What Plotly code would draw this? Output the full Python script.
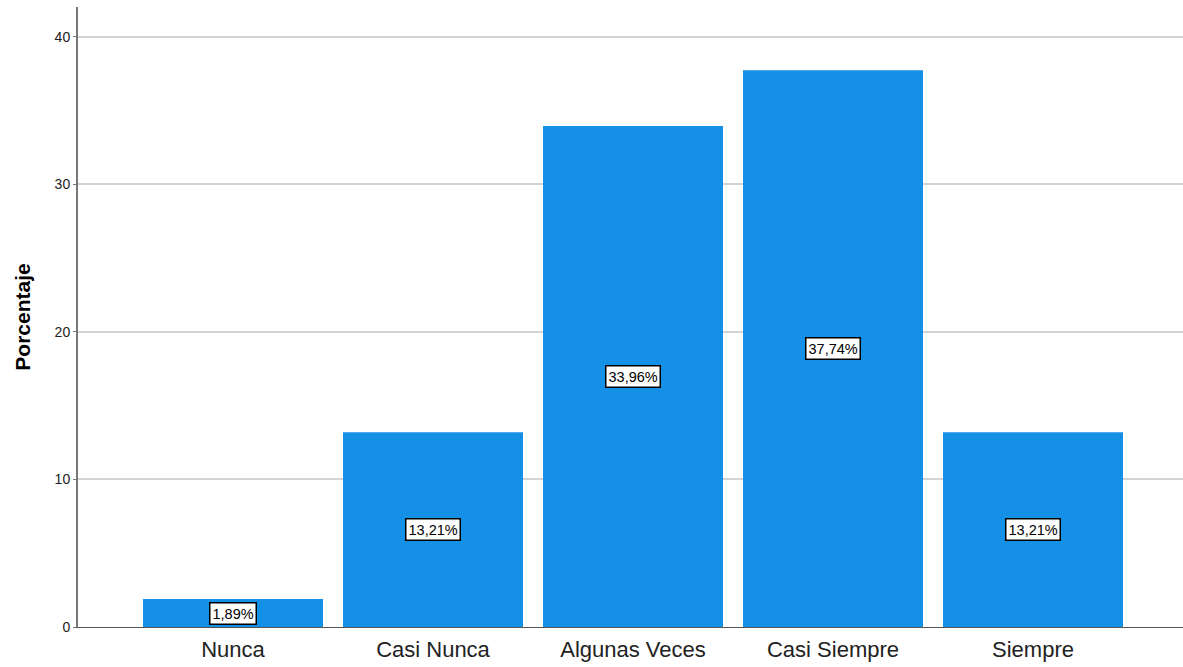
import plotly.graph_objects as go

categories = ["Nunca", "Casi Nunca", "Algunas Veces", "Casi Siempre", "Siempre"]
values = [1.89, 13.21, 33.96, 37.74, 13.21]
labels = ["1,89%", "13,21%", "33,96%", "37,74%", "13,21%"]
y_ticks = [0, 10, 20, 30, 40]

fig = go.Figure()
fig.add_trace(go.Bar(
    x=list(range(len(categories))), y=values,
    marker=dict(color="#1490E6", line=dict(width=0)),
    width=0.9, hoverinfo="skip",
))

for i, (v, t) in enumerate(zip(values, labels)):
    fig.add_annotation(
        x=i, y=v / 2, text=t, showarrow=False,
        font=dict(family="Liberation Sans, Arial", size=14.5, color="black"),
        bgcolor="white", bordercolor="black", borderwidth=1.5, borderpad=2,
    )

fig.update_layout(
    width=1183, height=667,
    margin=dict(l=78, r=0, t=7, b=40),
    paper_bgcolor="white", plot_bgcolor="white",
    showlegend=False,
    xaxis=dict(
        range=[-0.775, 4.75],
        tickmode="array", tickvals=list(range(len(categories))), ticktext=categories,
        tickfont=dict(family="Liberation Sans, Arial", size=22, color="#222"),
        showgrid=False, zeroline=False,
        showline=True, linecolor="#555", linewidth=1,
        ticks="", ticklabelstandoff=3,
    ),
    yaxis=dict(
        range=[0, 42.03],
        tickmode="array", tickvals=y_ticks,
        tickfont=dict(family="Liberation Sans, Arial", size=14, color="#222"),
        showgrid=True, gridcolor="#d3d3d3", gridwidth=2,
        zeroline=False,
        showline=True, linecolor="#777", linewidth=2,
        ticks="outside", ticklen=3, tickcolor="#777",
        title=dict(text="<b>Porcentaje</b>",
                   font=dict(family="Liberation Sans, Arial", size=21, color="black"),
                   standoff=18),
    ),
)

fig.write_html("out.html")
